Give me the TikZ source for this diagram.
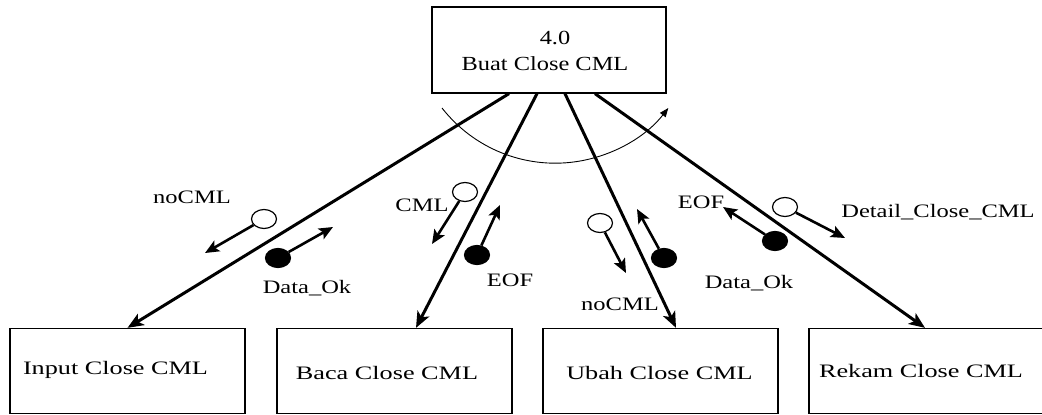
\documentclass[tikz,border=0pt]{standalone}
\usepackage{fontspec}
\setmainfont{Liberation Serif}
% widened serif faces for the process names and the flow labels
\newfontfamily\lblfont[FakeStretch=1.29]{Liberation Serif}
\newfontfamily\procfont[FakeStretch=1.38]{Liberation Serif}
\newfontfamily\headfont[FakeStretch=1.22]{Liberation Serif}
\usetikzlibrary{arrows.meta,shapes.geometric,calc}

\begin{document}
\begin{tikzpicture}[x=1pt,y=-1pt,
  procbox/.style={draw,line width=1.3pt,minimum width=235pt,minimum height=85pt,inner sep=0pt},
  headbox/.style={procbox,minimum width=234pt,minimum height=86pt},
  boxtext/.style={font=\procfont\fontsize{19pt}{21pt}\selectfont,inner sep=0pt,anchor=base},
  headtext/.style={font=\headfont\fontsize{20pt}{22pt}\selectfont,inner sep=0pt,anchor=base},
  lbl/.style={font=\lblfont\fontsize{19pt}{21pt}\selectfont,inner sep=0pt,anchor=base},
  flow/.style={line width=3pt,-{Stealth[length=16pt,width=13pt,inset=4pt]}},
  dflow/.style={line width=2.6pt,-{Stealth[length=14pt,width=12pt,inset=3pt]}},
  couple/.style={ellipse,inner sep=0pt,minimum width=25pt,minimum height=19pt,line width=1.2pt},
  datac/.style={couple,draw,fill=white},
  ctrlc/.style={couple,draw,fill=black},
  turn/.style={line width=0.9pt,-{Triangle[length=9pt,width=7pt]}}
]
\useasboundingbox (0,0) rectangle (1042,415);
\clip (0,0) rectangle (1042,415);
\fill[white] (0,0) rectangle (1042,415);

% parent process
\node[headbox] (top) at (549,50) {};
\node[headtext] (topnum) at (555,45) {4.0};
\node[headtext] (topname) at (545,70) {Buat Close CML};

% child processes
\node[procbox] (in)    at (127.5,371) {};
\node[procbox] (baca)  at (394.5,371) {};
\node[procbox] (ubah)  at (660.5,371) {};
\node[procbox] (rekam) at (926.5,371) {};
\node[boxtext] (intxt)    at (115.5,374) {Input Close CML};
\node[boxtext] (bacatxt)  at (387,379)   {Baca Close CML};
\node[boxtext] (ubahtxt)  at (659.5,379) {Ubah Close CML};
\node[boxtext] (rekamtxt) at (921,377)   {Rekam Close CML};

% calls from the parent to each child
\draw[flow] ($(top.south)+(-40,0)$) -- (in.north);
\draw[flow] ($(top.south)+(-12,0)$) -- ($(baca.north)+(21.5,0)$);
\draw[flow] ($(top.south)+(16,0)$)  -- ($(ubah.north)+(15.5,0)$);
\draw[flow] ($(top.south)+(46,0)$)  -- ($(rekam.north)+(-1.5,0)$);

% iteration arc
\draw[turn] (442,108) arc[start angle=142,end angle=38,radius=143.6];

% couples along the Input call
\node[datac] (c1) at (264,219) {};
\coordinate (t1) at (205,253);
\draw[dflow] (c1) -- (t1);
\node[ctrlc] (c2) at (278,258) {};
\coordinate (t2) at (333,227);
\draw[dflow] (c2) -- (t2);
\node[lbl] (l1) at (192,203) {noCML};
\node[lbl] (l2) at (307,293) {Data\_Ok};

% couples along the Baca call
\node[datac] (c3) at (465,192) {};
\coordinate (t3) at (432,244);
\draw[dflow] (c3) -- (t3);
\node[ctrlc] (c4) at (477,255) {};
\coordinate (t4) at (500,205);
\draw[dflow] (c4) -- (t4);
\node[lbl] (l3) at (422,211) {CML};
\node[lbl] (l4) at (510,286) {EOF};

% couples along the Ubah call
\node[datac] (c5) at (600,223) {};
\coordinate (t5) at (626,273);
\draw[dflow] (c5) -- (t5);
\node[ctrlc] (c6) at (664,258) {};
\coordinate (t6) at (637,209);
\draw[dflow] (c6) -- (t6);
\node[lbl] (l5) at (620,310) {noCML};

% couples along the Rekam call
\node[ctrlc] (c7) at (775,241) {};
\coordinate (t7) at (723,207);
\draw[dflow] (c7) -- (t7);
\node[datac] (c8) at (785,207) {};
\coordinate (t8) at (845,238);
\draw[dflow] (c8) -- (t8);
\node[lbl] (l6) at (701,208) {EOF};
\node[lbl] (l7) at (749,288) {Data\_Ok};
\node[lbl] (l8) at (938,217) {Detail\_Close\_CML};
\end{tikzpicture}
\end{document}
